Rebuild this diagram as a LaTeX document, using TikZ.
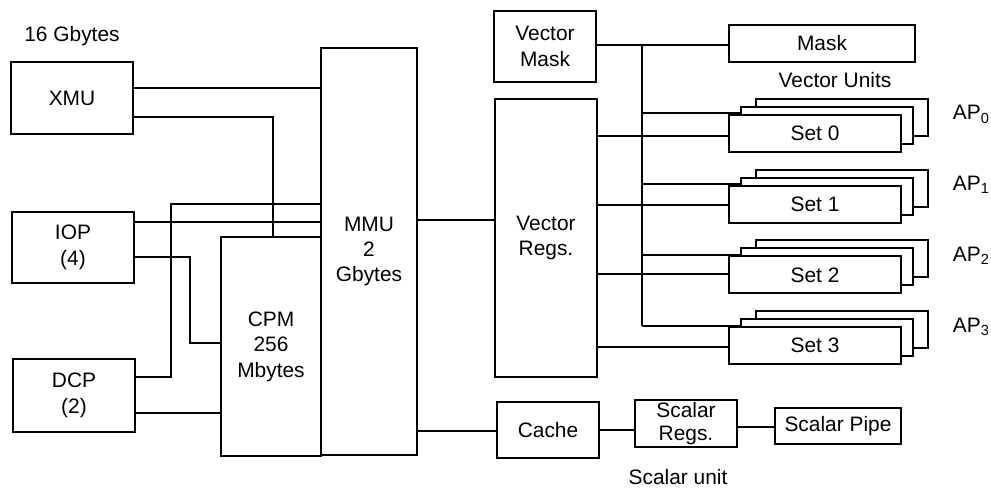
\documentclass[tikz,border=0pt]{standalone}
\usepackage{fontspec}
\setmainfont{Liberation Sans}
\begin{document}
\begin{tikzpicture}[x=0.02cm,y=-0.02cm,
  line width=1pt,
  every node/.style={font=\fontsize{11.9}{14.5}\selectfont},
  box/.style={draw,fill=white,inner sep=0pt,align=center},
  wh/.style 2 args={minimum width=#1*0.02cm,minimum height=#2*0.02cm},
  card/.style={box,wh={172}{37}},
  txt/.style={inner sep=0pt}]
\useasboundingbox (0,0) rectangle (991,489);
% left side
\node[txt] (gb) at (72,36) {16 Gbytes};
\node[box,wh={122}{72}] (XMU) at (72,98) {XMU};
\node[box,wh={122}{71}] (IOP) at (73,247.5) {IOP\\(4)};
\node[box,wh={122}{73}] (DCP) at (74,395.5) {DCP\\(2)};
\node[box,wh={100}{219}] (CPM) at (271,346.5) {CPM\\256\\Mbytes};
\node[box,wh={96}{407}] (MMU) at (369,251.5) {MMU\\2\\Gbytes};
% middle
\node[box,wh={102}{71}] (VM) at (545,46.5) {Vector\\Mask};
\node[box,wh={102}{278}] (VR) at (546,238) {Vector\\Regs.};
\node[box,wh={102}{56}] (Cache) at (548,430) {Cache};
\node[box,wh={102}{47},font=\fontsize{11.9}{13}\selectfont] (SR) at (686,423.5) {Scalar\\Regs.};
\node[box,wh={126}{36}] (SP) at (838,426) {Scalar Pipe};
\node[txt,anchor=base] (su) at (678,485) {Scalar unit};
% right
\node[box,wh={186}{37}] (Mask) at (822,43.5) {Mask};
\node[txt] (vu) at (835,80) {Vector Units};
\coordinate (bustop) at (642,45);
% connectors left
\draw (XMU.east |- 0,88) -- (MMU.west |- 0,88);
\draw (XMU.east |- 0,117) -| (CPM.north -| 273,0);
\draw (DCP.east |- 0,377) -| (171,204) -- (MMU.west |- 0,204);
\draw (IOP.east |- 0,222) -- (MMU.west |- 0,222);
\draw (IOP.east |- 0,257) -| (190,343) -- (CPM.west |- 0,343);
\draw (DCP.east |- 0,413) -- (CPM.west |- 0,413);
% connectors middle
\draw (MMU.east |- 0,220) -- (VR.west |- 0,220);
\draw (MMU.east |- 0,431) -- (Cache.west |- 0,431);
\draw (Cache.east) -- (Cache.east -| SR.west);
\draw (SR.east |- 0,427) -- (SP.west |- 0,427);
\draw (VM.east |- 0,45) -- (Mask.west |- 0,45);
% vector unit sets
\foreach \k/\yv in {0/136,1/205,2/274,3/347} {
  \pgfmathsetmacro\yf{133.5+70.67*\k}
  \pgfmathsetmacro\yb{113+71*\k}
  \pgfmathsetmacro\ya{120+70.7*\k}
  \node[card] (Sb\k) at (842,\yf-16) {};
  \node[card] (Sm\k) at (827,\yf-8) {};
  \node[card] (S\k) at (815,\yf) {Set \k};
  \node[txt,anchor=base west] (AP\k) at (952,\ya) {AP\textsubscript{\k}};
  \draw (VR.east |- 0,\yv) -- (S\k.west |- 0,\yv);
  \draw (bustop |- 0,\yb) -- (Sm\k.west |- 0,\yb);
}
\draw (bustop) -- (bustop |- 0,326);
\end{tikzpicture}
\end{document}
